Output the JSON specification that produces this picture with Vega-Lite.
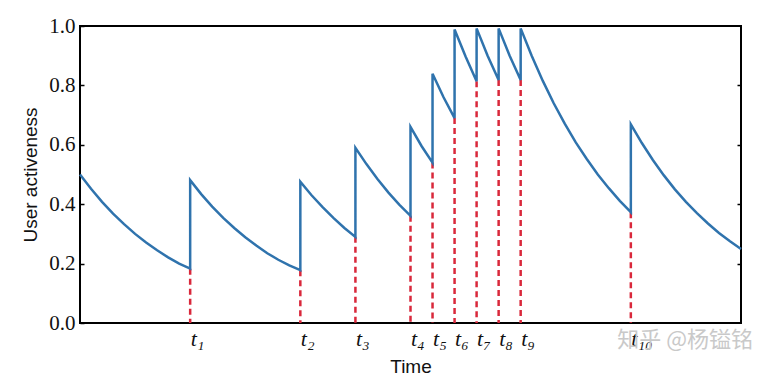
{
  "$schema": "https://vega.github.io/schema/vega-lite/v6.json",
  "width": 661,
  "height": 297,
  "autosize": "none",
  "padding": {"left": 80, "top": 26, "right": 27, "bottom": 63},
  "background": "white",
  "title": {"text": "知乎 @杨镒铭", "orient": "bottom", "anchor": "end", "color": "#c9c9c9", "font": "Noto Sans CJK SC", "fontSize": 22, "fontWeight": "normal", "offset": -46, "dx": 7},
  "config": {
    "view": {"stroke": "black", "strokeWidth": 2},
    "axis": {"grid": false, "domain": false}
  },
  "datasets": {
    "curve": [
      {"step": 0, "t": 0, "v": 0.500}, {"step": 1, "t": 0.5, "v": 0.452}, {"step": 2, "t": 1, "v": 0.408},
      {"step": 3, "t": 1.5, "v": 0.368}, {"step": 4, "t": 2, "v": 0.333}, {"step": 5, "t": 2.5, "v": 0.300},
      {"step": 6, "t": 3, "v": 0.271}, {"step": 7, "t": 3.5, "v": 0.245}, {"step": 8, "t": 4, "v": 0.221},
      {"step": 9, "t": 4.5, "v": 0.200}, {"step": 10, "t": 5, "v": 0.183}, {"step": 11, "t": 5, "v": 0.481},
      {"step": 12, "t": 5.5, "v": 0.434}, {"step": 13, "t": 6, "v": 0.392}, {"step": 14, "t": 6.5, "v": 0.354},
      {"step": 15, "t": 7, "v": 0.320}, {"step": 16, "t": 7.5, "v": 0.289}, {"step": 17, "t": 8, "v": 0.261},
      {"step": 18, "t": 8.5, "v": 0.235}, {"step": 19, "t": 9, "v": 0.213}, {"step": 20, "t": 9.5, "v": 0.194},
      {"step": 21, "t": 10, "v": 0.178}, {"step": 22, "t": 10, "v": 0.476}, {"step": 23, "t": 10.5, "v": 0.431},
      {"step": 24, "t": 11, "v": 0.391}, {"step": 25, "t": 11.5, "v": 0.354}, {"step": 26, "t": 12, "v": 0.320},
      {"step": 27, "t": 12.5, "v": 0.290}, {"step": 28, "t": 12.5, "v": 0.590}, {"step": 29, "t": 13, "v": 0.535},
      {"step": 30, "t": 13.5, "v": 0.485}, {"step": 31, "t": 14, "v": 0.439}, {"step": 32, "t": 14.5, "v": 0.398},
      {"step": 33, "t": 15, "v": 0.361}, {"step": 34, "t": 15, "v": 0.660}, {"step": 35, "t": 15.5, "v": 0.596},
      {"step": 36, "t": 16, "v": 0.540}, {"step": 37, "t": 16, "v": 0.839}, {"step": 38, "t": 16.5, "v": 0.760},
      {"step": 39, "t": 17, "v": 0.690}, {"step": 40, "t": 17, "v": 0.988}, {"step": 41, "t": 17.5, "v": 0.897},
      {"step": 42, "t": 18, "v": 0.814}, {"step": 43, "t": 18, "v": 0.992}, {"step": 44, "t": 18.5, "v": 0.900},
      {"step": 45, "t": 19, "v": 0.818}, {"step": 46, "t": 19, "v": 0.992}, {"step": 47, "t": 19.5, "v": 0.900},
      {"step": 48, "t": 20, "v": 0.818}, {"step": 49, "t": 20, "v": 0.992}, {"step": 50, "t": 20.5, "v": 0.900},
      {"step": 51, "t": 21, "v": 0.816}, {"step": 52, "t": 21.5, "v": 0.740}, {"step": 53, "t": 22, "v": 0.671},
      {"step": 54, "t": 22.5, "v": 0.608}, {"step": 55, "t": 23, "v": 0.552}, {"step": 56, "t": 23.5, "v": 0.500},
      {"step": 57, "t": 24, "v": 0.454}, {"step": 58, "t": 24.5, "v": 0.411}, {"step": 59, "t": 25, "v": 0.373},
      {"step": 60, "t": 25, "v": 0.669}, {"step": 61, "t": 25.5, "v": 0.606}, {"step": 62, "t": 26, "v": 0.549},
      {"step": 63, "t": 26.5, "v": 0.497}, {"step": 64, "t": 27, "v": 0.450}, {"step": 65, "t": 27.5, "v": 0.408},
      {"step": 66, "t": 28, "v": 0.370}, {"step": 67, "t": 28.5, "v": 0.335}, {"step": 68, "t": 29, "v": 0.303},
      {"step": 69, "t": 29.5, "v": 0.275}, {"step": 70, "t": 30, "v": 0.249}
    ],
    "events": [
      {"t": 5, "low": 0.183}, {"t": 10, "low": 0.178}, {"t": 12.5, "low": 0.290},
      {"t": 15, "low": 0.361}, {"t": 16, "low": 0.540}, {"t": 17, "low": 0.690},
      {"t": 18, "low": 0.814}, {"t": 19, "low": 0.818}, {"t": 20, "low": 0.818},
      {"t": 25, "low": 0.373}
    ]
  },
  "layer": [
    {
      "data": {"name": "events"},
      "mark": {"type": "rule", "color": "#d9283b", "strokeWidth": 2.5, "strokeDash": [6, 4]},
      "encoding": {
        "x": {
          "field": "t", "type": "quantitative",
          "scale": {"domain": [0, 30], "nice": false},
          "axis": {
            "orient": "bottom",
            "values": [5, 10, 12.5, 15, 16, 17, 18, 19, 20, 25],
            "labelExpr": "['t₁','t₂','t₃','t₄','t₅','t₆','t₇','t₈','t₉','t₁₀'][indexof([5,10,12.5,15,16,17,18,19,20,25], datum.value)]",
            "labelFont": "Liberation Serif",
            "labelFontStyle": "italic",
            "labelFontSize": 22,
            "labelColor": "#111",
            "labelAlign": "left",
            "labelOverlap": false,
            "labelBound": false,
            "labelPadding": 5,
            "ticks": false,
            "title": "Time",
            "titleFont": "Liberation Sans",
            "titleFontSize": 19,
            "titleFontWeight": "normal",
            "titleColor": "#111",
            "titlePadding": 8
          }
        },
        "y": {
          "field": "low", "type": "quantitative",
          "scale": {"domain": [0, 1], "nice": false},
          "axis": {
            "orient": "left",
            "values": [0, 0.2, 0.4, 0.6, 0.8, 1.0],
            "format": ".1f",
            "labelFont": "Liberation Serif",
            "labelFontSize": 21,
            "labelColor": "#111",
            "labelPadding": 9,
            "ticks": true,
            "tickSize": -4,
            "tickColor": "black",
            "tickWidth": 1.5,
            "title": "User activeness",
            "titleFont": "Liberation Sans",
            "titleFontSize": 19,
            "titleFontWeight": "normal",
            "titleColor": "#111",
            "titlePadding": 8
          }
        },
        "y2": {"datum": 0}
      }
    },
    {
      "data": {"name": "curve"},
      "mark": {"type": "line", "color": "#2f73ad", "strokeWidth": 2.5},
      "encoding": {
        "x": {"field": "t", "type": "quantitative"},
        "y": {
          "field": "v", "type": "quantitative",
          "axis": {
            "orient": "right",
            "values": [0.2, 0.4, 0.6, 0.8],
            "labels": false,
            "ticks": true,
            "tickSize": -4,
            "tickColor": "black",
            "tickWidth": 1.5,
            "title": null
          }
        },
        "order": {"field": "step", "type": "quantitative"}
      }
    }
  ],
  "resolve": {"axis": {"y": "independent"}}
}
